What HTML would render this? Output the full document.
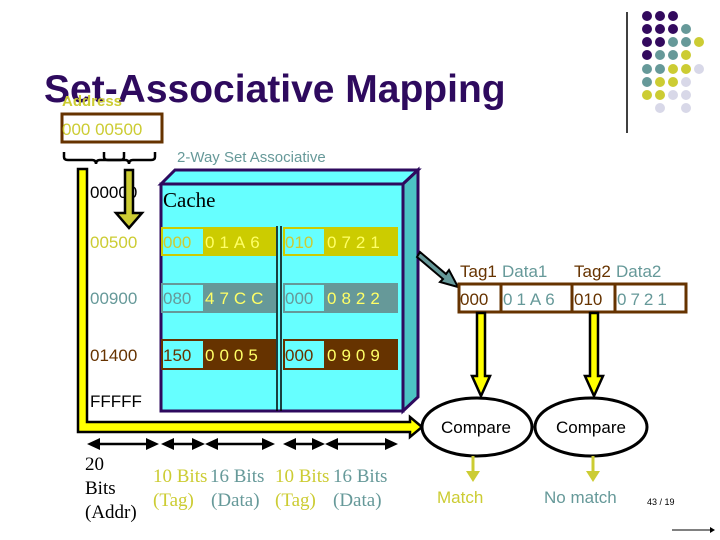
<!DOCTYPE html>
<html><head><meta charset="utf-8"><style>
html,body{margin:0;padding:0;background:#fff}
svg{display:block}
text{font-family:"Liberation Sans",sans-serif}
.s text, text.s{font-family:"Liberation Serif",serif}
</style></head><body>
<svg width="720" height="540" viewBox="0 0 720 540" xmlns="http://www.w3.org/2000/svg">
<line x1="627" y1="12" x2="627" y2="133" stroke="#000" stroke-width="1.5"/>
<g>
<circle cx="647" cy="16" r="5" fill="#330a5e"/><circle cx="660" cy="16" r="5" fill="#330a5e"/><circle cx="673" cy="16" r="5" fill="#330a5e"/>
<circle cx="647" cy="29" r="5" fill="#330a5e"/><circle cx="660" cy="29" r="5" fill="#330a5e"/><circle cx="673" cy="29" r="5" fill="#330a5e"/><circle cx="686" cy="29" r="5" fill="#669999"/>
<circle cx="647" cy="42" r="5" fill="#330a5e"/><circle cx="660" cy="42" r="5" fill="#330a5e"/><circle cx="673" cy="42" r="5" fill="#669999"/><circle cx="686" cy="42" r="5" fill="#669999"/><circle cx="699" cy="42" r="5" fill="#cccc33"/>
<circle cx="647" cy="55" r="5" fill="#330a5e"/><circle cx="660" cy="55" r="5" fill="#669999"/><circle cx="673" cy="55" r="5" fill="#669999"/><circle cx="686" cy="55" r="5" fill="#cccc33"/>
<circle cx="647" cy="69" r="5" fill="#669999"/><circle cx="660" cy="69" r="5" fill="#669999"/><circle cx="673" cy="69" r="5" fill="#cccc33"/><circle cx="686" cy="69" r="5" fill="#cccc33"/><circle cx="699" cy="69" r="5" fill="#d8d8e8"/>
<circle cx="647" cy="82" r="5" fill="#669999"/><circle cx="660" cy="82" r="5" fill="#cccc33"/><circle cx="673" cy="82" r="5" fill="#cccc33"/><circle cx="686" cy="82" r="5" fill="#d8d8e8"/>
<circle cx="647" cy="95" r="5" fill="#cccc33"/><circle cx="660" cy="95" r="5" fill="#cccc33"/><circle cx="673" cy="95" r="5" fill="#d8d8e8"/><circle cx="686" cy="95" r="5" fill="#d8d8e8"/>
<circle cx="660" cy="108" r="5" fill="#d8d8e8"/><circle cx="686" cy="108" r="5" fill="#d8d8e8"/>
</g>
<text x="44" y="102" font-size="39" font-weight="bold" fill="#2e0a5e">Set-Associative Mapping</text>
<text x="62" y="106" font-size="15" font-weight="bold" fill="#cccc33">Address</text>
<rect x="62" y="114" width="100" height="28" fill="#fff" stroke="#663300" stroke-width="3"/>
<text x="62" y="135" font-size="17" fill="#cccc33">000 00500</text>
<path d="M64,152 v5 q0,3 4,3 h24 q4,0 4,4 q0,-4 4,-4 h20 q4,0 4,-3 v-5" fill="none" stroke="#000" stroke-width="2.5"/>
<path d="M104,152 v5 q0,3 4,3 h17 q4,0 4,4 q0,-4 4,-4 h18 q4,0 4,-3 v-5" fill="none" stroke="#000" stroke-width="2.5"/>
<text x="177" y="162" font-size="15" fill="#669999">2-Way Set Associative</text>
<polygon points="161,184 175,170 418,170 403,184" fill="#66ffff" stroke="#2e0a5e" stroke-width="3"/>
<polygon points="403,184 418,170 418,397 403,411" fill="#4cc4c4" stroke="#2e0a5e" stroke-width="3"/>
<rect x="161" y="184" width="242" height="227" fill="#66ffff" stroke="#2e0a5e" stroke-width="3"/>
<text x="163" y="207" class="s" font-size="21" fill="#000">Cache</text>
<line x1="277" y1="226" x2="277" y2="411" stroke="#000" stroke-width="1.5"/>
<line x1="281" y1="226" x2="281" y2="411" stroke="#000" stroke-width="1.5"/>
<g font-size="17">
<rect x="161" y="227" width="115" height="29" fill="#cccc00"/><rect x="163" y="229" width="40" height="25" fill="#66ffff"/>
<rect x="283" y="227" width="115" height="29" fill="#cccc00"/><rect x="285" y="229" width="39" height="25" fill="#66ffff"/>
<text x="163" y="248" fill="#cccc33">000</text><text x="205" y="248" fill="#ffff66" letter-spacing="5">01A6</text>
<text x="285" y="248" fill="#cccc33">010</text><text x="327" y="248" fill="#ffff66" letter-spacing="5">0721</text>
<rect x="161" y="283" width="115" height="30" fill="#669999"/><rect x="163" y="285" width="40" height="26" fill="#66ffff"/>
<rect x="283" y="283" width="115" height="30" fill="#669999"/><rect x="285" y="285" width="39" height="26" fill="#66ffff"/>
<text x="163" y="304" fill="#669999">080</text><text x="205" y="304" fill="#ffff66" letter-spacing="5">47CC</text>
<text x="285" y="304" fill="#669999">000</text><text x="327" y="304" fill="#ffff66" letter-spacing="5">0822</text>
<rect x="161" y="339" width="115" height="31" fill="#663300"/><rect x="163" y="341" width="40" height="27" fill="#66ffff"/>
<rect x="283" y="339" width="115" height="31" fill="#663300"/><rect x="285" y="341" width="39" height="27" fill="#66ffff"/>
<text x="163" y="361" fill="#663300">150</text><text x="205" y="361" fill="#ffff66" letter-spacing="5">0005</text>
<text x="285" y="361" fill="#663300">000</text><text x="327" y="361" fill="#ffff66" letter-spacing="5">0909</text>
<text x="90" y="198" fill="#000">00000</text>
<text x="90" y="248" fill="#cccc33">00500</text>
<text x="90" y="304" fill="#669999">00900</text>
<text x="90" y="361" fill="#663300">01400</text>
<text x="90" y="407" fill="#000">FFFFF</text>
</g>
<path d="M78,169 H87 V422 H410 V417 L422,427 L410,437 V432 H78 Z" fill="#ffff00" stroke="#000" stroke-width="2.5"/>
<path d="M125,170 H133 V213 H142 L129,228 L116,213 H125 Z" fill="#cccc33" stroke="#000" stroke-width="2.5"/>
<path d="M420,252 L446,274 L449,270 L458,287 L440,282 L443,279 L417,257 Z" fill="#669999" stroke="#000" stroke-width="2"/>
<text x="460" y="277" font-size="17" fill="#663300">Tag1</text><text x="502" y="277" font-size="17" fill="#669999">Data1</text>
<text x="574" y="277" font-size="17" fill="#663300">Tag2</text><text x="616" y="277" font-size="17" fill="#669999">Data2</text>
<rect x="459" y="284" width="227" height="28" fill="#fff" stroke="#663300" stroke-width="3"/>
<line x1="501" y1="284" x2="501" y2="312" stroke="#663300" stroke-width="3"/>
<line x1="572" y1="284" x2="572" y2="312" stroke="#663300" stroke-width="3"/>
<line x1="615" y1="284" x2="615" y2="312" stroke="#663300" stroke-width="3"/>
<text x="460" y="305" font-size="17" fill="#663300">000</text><text x="503" y="305" font-size="17" fill="#669999" letter-spacing="4">01A6</text>
<text x="574" y="305" font-size="17" fill="#663300">010</text><text x="617" y="305" font-size="17" fill="#669999" letter-spacing="4">0721</text>
<path d="M477,313 H485 V376 H490 L481,396 L472,376 H477 Z" fill="#ffff00" stroke="#000" stroke-width="2.5"/>
<path d="M590,313 H598 V376 H603 L594,396 L585,376 H590 Z" fill="#ffff00" stroke="#000" stroke-width="2.5"/>
<ellipse cx="477" cy="427" rx="55" ry="29" fill="#fff" stroke="#000" stroke-width="3"/>
<ellipse cx="591" cy="427" rx="56" ry="29" fill="#fff" stroke="#000" stroke-width="3"/>
<text x="476" y="433" font-size="17" text-anchor="middle" fill="#000">Compare</text>
<text x="591" y="433" font-size="17" text-anchor="middle" fill="#000">Compare</text>
<line x1="473" y1="456" x2="473" y2="472" stroke="#cccc33" stroke-width="3"/><polygon points="466,471 480,471 473,482" fill="#cccc33"/>
<line x1="593" y1="456" x2="593" y2="472" stroke="#cccc33" stroke-width="3"/><polygon points="586,471 600,471 593,482" fill="#cccc33"/>
<text x="437" y="503" font-size="17" fill="#cccc33">Match</text>
<text x="544" y="503" font-size="17" fill="#669999">No match</text>
<text x="647" y="505" font-size="9" fill="#000">43 / 19</text>
<line x1="672" y1="530" x2="710" y2="530" stroke="#000" stroke-width="1"/><polygon points="710,527 715,530 710,533"/>
<g stroke="#000" stroke-width="2.5" fill="#000">
<line x1="92" y1="444" x2="154" y2="444"/><polygon points="87,444 100,438 100,450" stroke="none"/><polygon points="159,444 146,438 146,450" stroke="none"/>
<line x1="166" y1="444" x2="200" y2="444"/><polygon points="161,444 174,438 174,450" stroke="none"/><polygon points="205,444 192,438 192,450" stroke="none"/>
<line x1="210" y1="444" x2="270" y2="444"/><polygon points="205,444 218,438 218,450" stroke="none"/><polygon points="275,444 262,438 262,450" stroke="none"/>
<line x1="288" y1="444" x2="320" y2="444"/><polygon points="283,444 296,438 296,450" stroke="none"/><polygon points="325,444 312,438 312,450" stroke="none"/>
<line x1="330" y1="444" x2="393" y2="444"/><polygon points="325,444 338,438 338,450" stroke="none"/><polygon points="398,444 385,438 385,450" stroke="none"/>
</g>
<g class="s" font-size="19">
<text x="85" y="470" fill="#000">20</text>
<text x="85" y="494" fill="#000">Bits</text>
<text x="85" y="518" fill="#000">(Addr)</text>
<text x="153" y="482" fill="#cccc33">10 Bits</text><text x="210" y="482" fill="#669999">16 Bits</text>
<text x="275" y="482" fill="#cccc33">10 Bits</text><text x="333" y="482" fill="#669999">16 Bits</text>
<text x="153" y="506" fill="#cccc33">(Tag)</text><text x="211" y="506" fill="#669999">(Data)</text>
<text x="275" y="506" fill="#cccc33">(Tag)</text><text x="333" y="506" fill="#669999">(Data)</text>
</g>
</svg>
</body></html>
